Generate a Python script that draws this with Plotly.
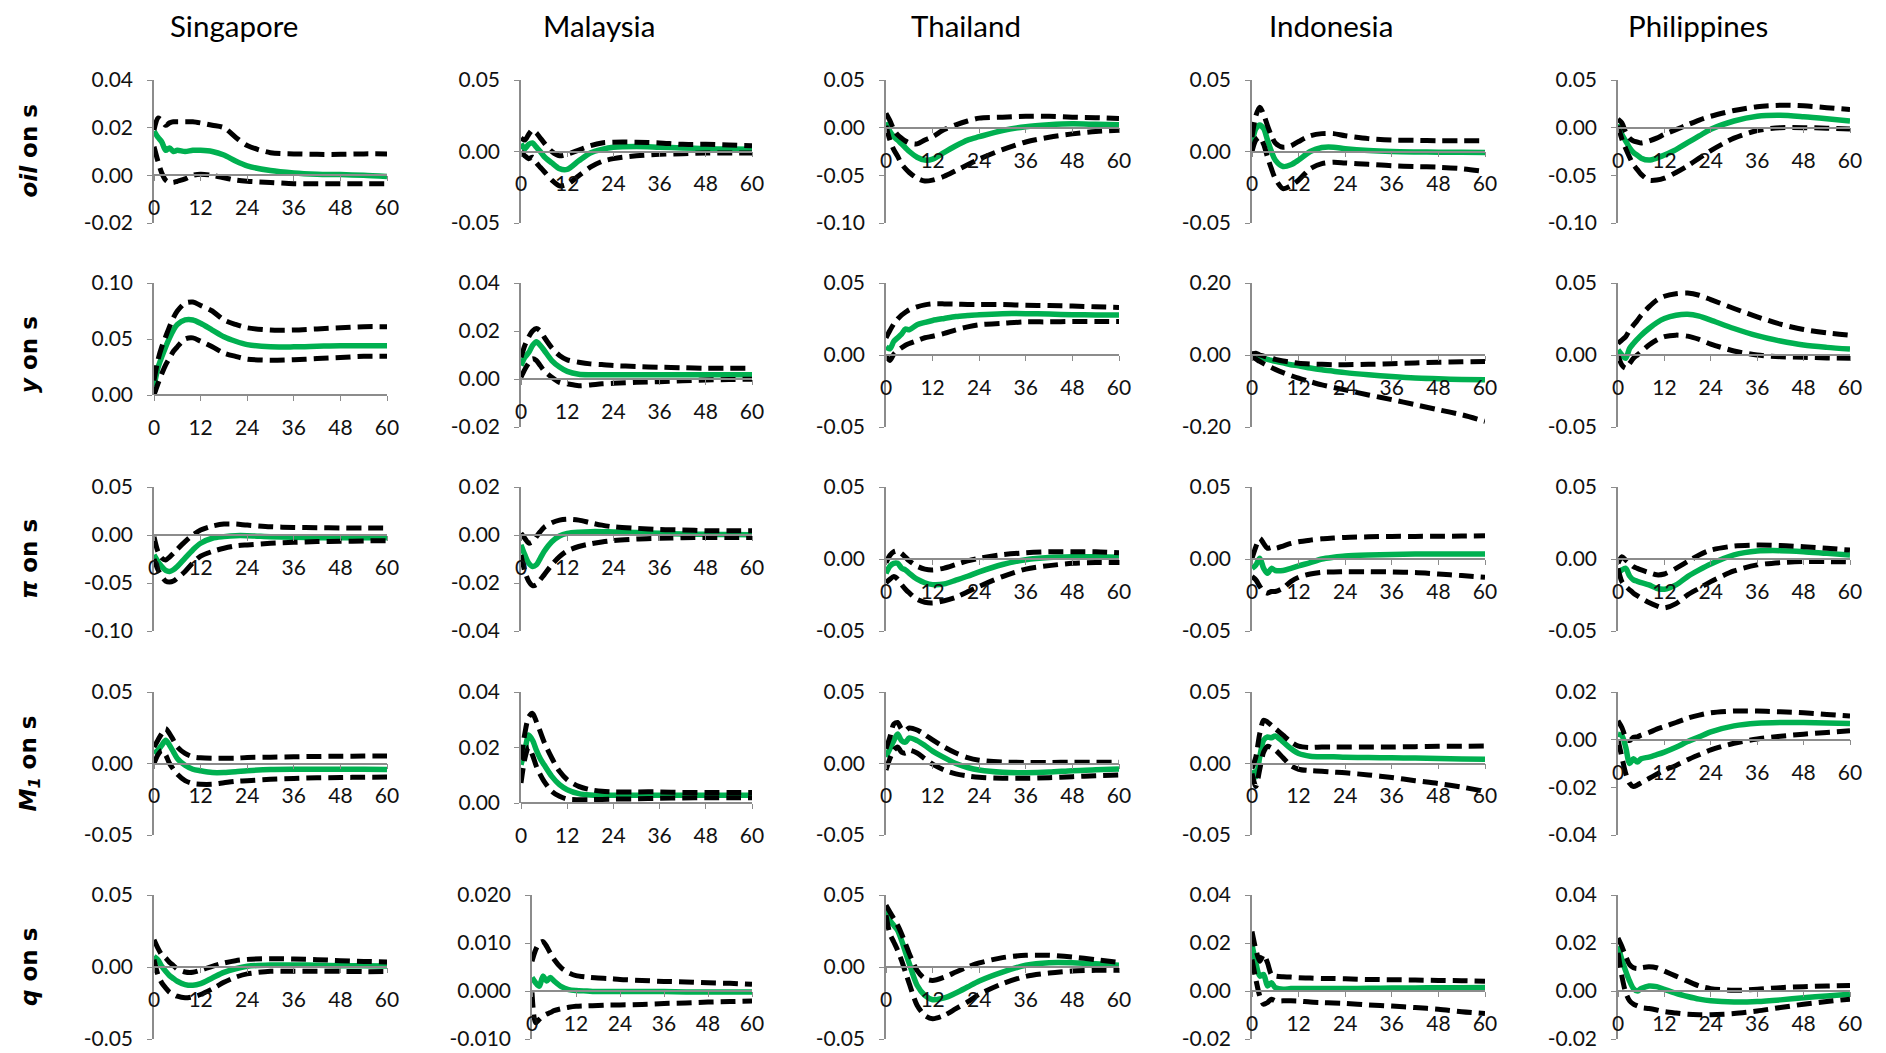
import plotly.graph_objects as go

# page body has an 8px margin: the figure is drawn from (8, 8)
PAGE_OFF = 8
W, H = 1886 - 2 * PAGE_OFF, 1053 - PAGE_OFF

countries = ["Singapore", "Malaysia", "Thailand", "Indonesia", "Philippines"]
shock_labels = ["<b><i>oil</i> on s</b>", "<b><i>y</i> on s</b>", "<b><i>π</i> on s</b>",
                "<b><i>M<sub>1</sub></i> on s</b>", "<b><i>q</i> on s</b>"]
horizons = [0, 1, 2, 3, 4, 5, 6, 8, 10, 12, 15, 18, 21, 24, 30, 36, 42, 48, 54, 60]
x_tick_values = [0, 12, 24, 36, 48, 60]

# ---------------- oil on s ----------------
sg_oil_mid = [0.0185, 0.016, 0.014, 0.0105, 0.0115, 0.010, 0.0105, 0.010, 0.0105, 0.0105, 0.010, 0.0085, 0.006, 0.004, 0.002, 0.001, 0.0005, 0.0003, 0.0, -0.0005]
sg_oil_hi = [0.019, 0.024, 0.023, 0.021, 0.022, 0.0225, 0.0225, 0.0225, 0.0225, 0.022, 0.021, 0.020, 0.016, 0.0125, 0.0095, 0.009, 0.0088, 0.0088, 0.009, 0.009]
sg_oil_lo = [0.012, 0.006, 0.001, -0.002, -0.003, -0.003, -0.0025, -0.0015, 0.0, 0.0005, 0.0, -0.001, -0.002, -0.0025, -0.003, -0.0035, -0.0035, -0.0035, -0.0035, -0.0035]

my_oil_mid = [0.0055, 0.002, 0.005, 0.006, 0.003, 0.0, -0.0035, -0.008, -0.012, -0.0125, -0.0065, -0.001, 0.0015, 0.003, 0.0035, 0.003, 0.0025, 0.002, 0.0017, 0.0015]
my_oil_hi = [0.0095, 0.008, 0.012, 0.015, 0.013, 0.0095, 0.006, 0.0, -0.003, -0.002, 0.001, 0.004, 0.006, 0.0065, 0.0065, 0.006, 0.005, 0.005, 0.0045, 0.004]
my_oil_lo = [0.0, -0.003, -0.005, -0.004, -0.008, -0.011, -0.014, -0.020, -0.024, -0.023, -0.017, -0.011, -0.007, -0.005, -0.003, -0.002, -0.0015, -0.001, -0.001, -0.001]

th_oil_mid = [0.0057, -0.004, -0.0095, -0.013, -0.017, -0.021, -0.025, -0.031, -0.034, -0.033, -0.026, -0.019, -0.013, -0.0095, -0.003, 0.001, 0.003, 0.004, 0.0035, 0.003]
th_oil_hi = [0.015, 0.0075, -0.002, -0.0076, -0.011, -0.014, -0.016, -0.017, -0.013, -0.0095, -0.002, 0.003, 0.007, 0.010, 0.011, 0.012, 0.012, 0.011, 0.0105, 0.0095]
th_oil_lo = [0.002, -0.013, -0.023, -0.030, -0.038, -0.043, -0.047, -0.053, -0.056, -0.055, -0.051, -0.045, -0.039, -0.033, -0.023, -0.015, -0.010, -0.0065, -0.004, -0.0027]

id_oil_mid = [0.006, 0.016, 0.0186, 0.016, 0.008, 0.0, -0.006, -0.0105, -0.0093, -0.006, 0.0, 0.0028, 0.003, 0.002, 0.0007, 0.0, -0.0003, -0.0005, -0.0006, -0.0007]
id_oil_hi = [0.010, 0.025, 0.031, 0.026, 0.018, 0.011, 0.006, 0.003, 0.004, 0.007, 0.011, 0.0125, 0.0125, 0.011, 0.009, 0.008, 0.0078, 0.0075, 0.0075, 0.0075]
id_oil_lo = [0.0, 0.008, 0.010, 0.005, -0.004, -0.012, -0.019, -0.026, -0.024, -0.020, -0.012, -0.0085, -0.0075, -0.008, -0.009, -0.010, -0.0105, -0.011, -0.012, -0.014]

ph_oil_mid = [0.0035, -0.007, -0.014, -0.021, -0.026, -0.029, -0.032, -0.034, -0.032, -0.0287, -0.023, -0.0157, -0.0087, -0.0017, 0.007, 0.012, 0.013, 0.0115, 0.0094, 0.007]
ph_oil_hi = [0.009, 0.005, -0.005, -0.011, -0.014, -0.015, -0.016, -0.014, -0.011, -0.007, -0.002, 0.003, 0.008, 0.012, 0.018, 0.022, 0.0235, 0.023, 0.021, 0.019]
ph_oil_lo = [0.002, -0.012, -0.022, -0.031, -0.039, -0.044, -0.049, -0.055, -0.055, -0.053, -0.047, -0.040, -0.032, -0.024, -0.011, -0.003, 0.0, 0.0, -0.0005, -0.0015]

# ---------------- y on s ----------------
sg_y_mid = [0.0075, 0.024, 0.034, 0.043, 0.051, 0.058, 0.063, 0.067, 0.067, 0.064, 0.058, 0.052, 0.048, 0.045, 0.043, 0.043, 0.0435, 0.044, 0.044, 0.044]
sg_y_hi = [0.013, 0.031, 0.043, 0.052, 0.061, 0.069, 0.075, 0.082, 0.083, 0.080, 0.075, 0.067, 0.063, 0.060, 0.058, 0.058, 0.059, 0.060, 0.061, 0.061]
sg_y_lo = [0.0, 0.010, 0.019, 0.027, 0.033, 0.039, 0.043, 0.050, 0.051, 0.048, 0.043, 0.0375, 0.0345, 0.032, 0.031, 0.0315, 0.0325, 0.0335, 0.0345, 0.0345]

my_y_mid = [0.0056, 0.009, 0.011, 0.014, 0.0155, 0.014, 0.012, 0.0077, 0.005, 0.0032, 0.002, 0.0018, 0.0018, 0.0018, 0.0018, 0.0018, 0.0018, 0.0018, 0.0018, 0.0018]
my_y_hi = [0.009, 0.014, 0.0175, 0.020, 0.021, 0.020, 0.0175, 0.013, 0.0098, 0.008, 0.007, 0.0063, 0.006, 0.0056, 0.0052, 0.0049, 0.0047, 0.0045, 0.0045, 0.0045]
my_y_lo = [0.0007, 0.004, 0.0066, 0.0084, 0.0077, 0.0056, 0.0035, 0.0007, -0.0014, -0.002, -0.0028, -0.0025, -0.002, -0.0018, -0.0014, -0.0011, -0.0007, -0.0004, -0.0002, -0.0001]

th_y_mid = [0.0056, 0.0043, 0.0094, 0.012, 0.0145, 0.018, 0.0175, 0.021, 0.0226, 0.024, 0.0254, 0.0267, 0.0274, 0.028, 0.0287, 0.0287, 0.0284, 0.028, 0.0278, 0.0277]
th_y_hi = [0.012, 0.017, 0.0216, 0.025, 0.0277, 0.0297, 0.0315, 0.0335, 0.0348, 0.0355, 0.0355, 0.0353, 0.0351, 0.035, 0.035, 0.0345, 0.0343, 0.034, 0.0335, 0.033]
th_y_lo = [-0.0008, -0.0038, 0.0005, 0.003, 0.005, 0.0068, 0.008, 0.010, 0.012, 0.013, 0.015, 0.0175, 0.0195, 0.021, 0.022, 0.023, 0.023, 0.0233, 0.0233, 0.0233]

id_y_mid = [0.0, -0.003, -0.006, -0.009, -0.012, -0.015, -0.0175, -0.022, -0.027, -0.030, -0.036, -0.041, -0.045, -0.049, -0.055, -0.060, -0.064, -0.066, -0.068, -0.069]
id_y_hi = [0.003, 0.005, 0.0, -0.003, -0.0065, -0.009, -0.012, -0.0166, -0.020, -0.023, -0.025, -0.026, -0.027, -0.027, -0.026, -0.024, -0.022, -0.020, -0.019, -0.018]
id_y_lo = [-0.0046, -0.011, -0.018, -0.024, -0.0295, -0.035, -0.040, -0.049, -0.057, -0.0645, -0.074, -0.083, -0.090, -0.097, -0.111, -0.124, -0.138, -0.152, -0.166, -0.184]

ph_y_mid = [0.0035, 0.0, -0.0023, 0.0046, 0.008, 0.011, 0.0138, 0.0184, 0.0224, 0.0253, 0.0276, 0.0283, 0.027, 0.0242, 0.0184, 0.0134, 0.0097, 0.0069, 0.0053, 0.0041]
ph_y_hi = [0.008, 0.0104, 0.0127, 0.0173, 0.0207, 0.024, 0.0276, 0.0334, 0.038, 0.0408, 0.0426, 0.043, 0.0415, 0.0385, 0.0323, 0.0265, 0.0214, 0.0177, 0.0154, 0.0138]
ph_y_lo = [0.0, -0.007, -0.0092, -0.0058, -0.0023, 0.0, 0.0023, 0.0069, 0.0104, 0.0127, 0.0138, 0.0131, 0.0108, 0.0076, 0.0028, 0.0, -0.0012, -0.0016, -0.002, -0.0023]

# ---------------- pi on s ----------------
sg_pi_mid = [-0.0207, -0.0276, -0.0328, -0.0369, -0.038, -0.0362, -0.0328, -0.024, -0.0155, -0.0086, -0.0034, -0.0017, -0.0007, -0.0007, -0.0017, -0.0024, -0.0028, -0.0028, -0.0028, -0.0028]
sg_pi_hi = [-0.002, -0.0172, -0.024, -0.026, -0.023, -0.019, -0.0148, -0.0069, 0.0, 0.0052, 0.0093, 0.0114, 0.0114, 0.0103, 0.0086, 0.0079, 0.0076, 0.0074, 0.0073, 0.0072]
sg_pi_lo = [-0.025, -0.036, -0.043, -0.048, -0.049, -0.048, -0.045, -0.038, -0.029, -0.022, -0.0172, -0.0138, -0.0114, -0.0103, -0.0086, -0.0076, -0.0069, -0.0066, -0.0062, -0.0059]

my_pi_mid = [-0.0041, -0.0083, -0.0117, -0.0131, -0.0124, -0.0097, -0.0069, -0.0028, -0.0004, 0.0007, 0.0012, 0.0014, 0.0014, 0.0013, 0.001, 0.0007, 0.0004, 0.0003, 0.0002, 0.0001]
my_pi_hi = [0.0007, -0.0014, -0.0034, -0.0028, -0.0007, 0.0014, 0.0032, 0.0051, 0.0062, 0.0066, 0.0062, 0.0051, 0.0041, 0.0034, 0.0028, 0.0023, 0.0021, 0.0018, 0.0018, 0.0018]
my_pi_lo = [-0.0083, -0.0152, -0.0193, -0.0211, -0.0207, -0.0186, -0.0166, -0.0124, -0.009, -0.0066, -0.0048, -0.0037, -0.0029, -0.0023, -0.0017, -0.0014, -0.0011, -0.001, -0.001, -0.001]

th_pi_mid = [-0.010, -0.005, -0.003, -0.003, -0.0063, -0.0076, -0.010, -0.014, -0.0165, -0.0178, -0.0173, -0.0147, -0.012, -0.0089, -0.0038, -0.0005, 0.001, 0.0015, 0.0015, 0.0013]
th_pi_hi = [-0.0025, 0.0025, 0.005, 0.0056, 0.0038, 0.0013, -0.0013, -0.005, -0.007, -0.0076, -0.0063, -0.0038, -0.0013, 0.0005, 0.003, 0.0043, 0.005, 0.005, 0.005, 0.0043]
th_pi_lo = [-0.0165, -0.014, -0.0122, -0.014, -0.0178, -0.021, -0.0236, -0.028, -0.030, -0.0305, -0.029, -0.0266, -0.0228, -0.019, -0.0122, -0.007, -0.0046, -0.003, -0.0025, -0.0025]

id_pi_mid = [-0.0065, -0.0041, 0.0005, -0.0065, -0.0099, -0.0065, -0.008, -0.008, -0.0065, -0.0048, -0.0025, 0.0, 0.0012, 0.0021, 0.0028, 0.0032, 0.0035, 0.0035, 0.0035, 0.0035]
id_pi_hi = [0.0005, 0.0085, 0.0143, 0.0108, 0.0074, 0.008, 0.0074, 0.009, 0.0108, 0.012, 0.0131, 0.014, 0.0145, 0.015, 0.0154, 0.0157, 0.0157, 0.0158, 0.0159, 0.0161]
id_pi_lo = [-0.0122, -0.0145, -0.019, -0.0226, -0.0237, -0.0226, -0.0226, -0.0203, -0.0157, -0.0127, -0.0104, -0.0092, -0.009, -0.0088, -0.0088, -0.009, -0.0094, -0.0104, -0.0115, -0.0127]

ph_pi_mid = [-0.0099, -0.0076, -0.0065, -0.0118, -0.0145, -0.0155, -0.0164, -0.018, -0.0203, -0.021, -0.018, -0.0122, -0.0076, -0.0035, 0.0028, 0.0055, 0.0058, 0.0051, 0.0039, 0.0028]
ph_pi_hi = [-0.003, 0.0016, -0.0007, -0.003, -0.0053, -0.0065, -0.0076, -0.0094, -0.011, -0.0104, -0.0065, -0.0018, 0.0028, 0.0062, 0.009, 0.0097, 0.0094, 0.0085, 0.0074, 0.0062]
ph_pi_lo = [-0.0065, -0.0157, -0.019, -0.0214, -0.0237, -0.0255, -0.0272, -0.0302, -0.0325, -0.034, -0.031, -0.0249, -0.0203, -0.0157, -0.0083, -0.0041, -0.0025, -0.0018, -0.0018, -0.002]

# ---------------- M1 on s ----------------
sg_m1_mid = [0.007, 0.0093, 0.0128, 0.0163, 0.0128, 0.0081, 0.0035, -0.0012, -0.004, -0.0051, -0.0063, -0.0063, -0.0058, -0.0051, -0.0042, -0.004, -0.004, -0.004, -0.004, -0.0042]
sg_m1_hi = [0.0116, 0.0163, 0.0209, 0.0244, 0.0209, 0.0163, 0.0116, 0.007, 0.0047, 0.004, 0.0037, 0.0037, 0.0037, 0.0042, 0.0044, 0.0047, 0.0049, 0.0051, 0.0052, 0.0053]
sg_m1_lo = [0.0, 0.006, 0.009, 0.006, 0.0, -0.004, -0.0075, -0.012, -0.014, -0.0145, -0.0145, -0.0135, -0.0125, -0.012, -0.011, -0.0105, -0.010, -0.0098, -0.0096, -0.0095]

my_m1_mid = [0.0138, 0.019, 0.0245, 0.0226, 0.019, 0.016, 0.0138, 0.0096, 0.0066, 0.0048, 0.0034, 0.0029, 0.0028, 0.0028, 0.0028, 0.0028, 0.0028, 0.0028, 0.0028, 0.0028]
my_m1_hi = [0.0156, 0.0251, 0.031, 0.0323, 0.0293, 0.0257, 0.022, 0.0162, 0.0114, 0.0084, 0.006, 0.0048, 0.0042, 0.004, 0.004, 0.004, 0.0038, 0.0038, 0.0038, 0.0038]
my_m1_lo = [0.0072, 0.016, 0.0202, 0.0172, 0.0132, 0.0102, 0.0078, 0.0042, 0.0024, 0.0014, 0.0012, 0.0012, 0.0013, 0.0014, 0.0015, 0.0017, 0.0018, 0.0019, 0.0019, 0.0019]

th_m1_mid = [0.0046, 0.0103, 0.016, 0.0206, 0.016, 0.0149, 0.0179, 0.016, 0.0126, 0.0087, 0.0041, 0.0, -0.0028, -0.0046, -0.0062, -0.0064, -0.006, -0.005, -0.0044, -0.0039]
th_m1_hi = [0.0103, 0.0183, 0.0275, 0.0287, 0.0241, 0.023, 0.0248, 0.0234, 0.0202, 0.0165, 0.0115, 0.0073, 0.0041, 0.0023, 0.0011, 0.0007, 0.0007, 0.0009, 0.0009, 0.0009]
th_m1_lo = [-0.0046, 0.0034, 0.0092, 0.0115, 0.008, 0.0073, 0.0092, 0.0073, 0.0034, -0.0005, -0.0046, -0.0073, -0.0087, -0.0096, -0.0103, -0.0103, -0.0099, -0.0092, -0.0085, -0.008]

id_m1_mid = [-0.0047, -0.0093, 0.0047, 0.0163, 0.0186, 0.018, 0.0193, 0.0151, 0.0105, 0.007, 0.0051, 0.0047, 0.0047, 0.0044, 0.0042, 0.004, 0.0038, 0.0035, 0.0032, 0.003]
id_m1_hi = [-0.0035, 0.0047, 0.021, 0.0302, 0.029, 0.0267, 0.0244, 0.0198, 0.0151, 0.0121, 0.0112, 0.0116, 0.0116, 0.0116, 0.0116, 0.0116, 0.0118, 0.0121, 0.0121, 0.0123]
id_m1_lo = [-0.007, -0.016, -0.004, 0.008, 0.012, 0.011, 0.0095, 0.004, -0.0015, -0.004, -0.005, -0.0055, -0.006, -0.0065, -0.008, -0.0098, -0.012, -0.014, -0.0165, -0.0195]

ph_m1_mid = [0.0023, 0.0017, -0.0032, -0.010, -0.008, -0.0094, -0.008, -0.0073, -0.0063, -0.0052, -0.0032, -0.0008, 0.0012, 0.0033, 0.0058, 0.0069, 0.0072, 0.0072, 0.007, 0.0068]
ph_m1_hi = [0.0079, 0.0051, 0.001, -0.0004, 0.001, 0.0012, 0.0019, 0.003, 0.0044, 0.0055, 0.0072, 0.009, 0.0103, 0.0113, 0.012, 0.012, 0.0117, 0.0113, 0.0106, 0.0099]
ph_m1_lo = [0.0, -0.0073, -0.0142, -0.0183, -0.0197, -0.019, -0.0181, -0.0163, -0.0145, -0.0128, -0.0108, -0.0084, -0.0063, -0.0043, -0.0015, 0.0003, 0.0014, 0.0023, 0.003, 0.0037]

# ---------------- q on s ----------------
sg_q_mid = [0.0074, 0.0051, 0.0005, -0.003, -0.006, -0.008, -0.0099, -0.0122, -0.0127, -0.0115, -0.0076, -0.0037, -0.0012, 0.0005, 0.0014, 0.0014, 0.0012, 0.0009, 0.0008, 0.0007]
sg_q_hi = [0.0189, 0.0131, 0.0085, 0.0062, 0.0032, 0.001, -0.0014, -0.0035, -0.0037, -0.0023, 0.0005, 0.0028, 0.0044, 0.0053, 0.0058, 0.0055, 0.0051, 0.0044, 0.0039, 0.0035]
sg_q_lo = [0.0051, -0.0053, -0.011, -0.0145, -0.0175, -0.019, -0.0203, -0.0214, -0.0207, -0.0191, -0.0152, -0.0106, -0.0071, -0.0048, -0.003, -0.003, -0.003, -0.003, -0.0032, -0.0032]

my_q_mid = [0.0028, 0.0017, 0.001, 0.0031, 0.0021, 0.0028, 0.0021, 0.0009, 0.0003, 0.0001, 0.0, -0.0001, -0.0001, -0.0001, -0.0001, -0.0001, -0.0002, -0.0002, -0.0002, -0.0002]
my_q_hi = [0.0062, 0.0086, 0.010, 0.0103, 0.0093, 0.0079, 0.0066, 0.0048, 0.0038, 0.0032, 0.0029, 0.0027, 0.0026, 0.0024, 0.0022, 0.002, 0.0019, 0.0017, 0.0016, 0.0014]
my_q_lo = [-0.0003, -0.0066, -0.0059, -0.0052, -0.0048, -0.0045, -0.0041, -0.0037, -0.0034, -0.0032, -0.0031, -0.003, -0.0029, -0.0029, -0.0028, -0.0026, -0.0025, -0.0023, -0.0022, -0.0021]

th_q_mid = [0.0394, 0.0324, 0.0289, 0.0255, 0.0185, 0.0104, 0.0023, -0.0127, -0.0197, -0.0227, -0.0215, -0.018, -0.0139, -0.0097, -0.0035, 0.0012, 0.003, 0.003, 0.0023, 0.0012]
th_q_hi = [0.0428, 0.0382, 0.0336, 0.029, 0.0231, 0.0162, 0.0093, -0.0023, -0.0081, -0.0093, -0.007, -0.0035, 0.0, 0.0028, 0.0065, 0.0081, 0.0081, 0.0069, 0.0051, 0.0032]
th_q_lo = [0.0359, 0.0231, 0.0174, 0.0116, 0.0046, -0.0035, -0.0116, -0.0266, -0.0336, -0.0359, -0.0336, -0.0289, -0.0243, -0.019, -0.0116, -0.0065, -0.0042, -0.0028, -0.0023, -0.0023]

id_q_mid = [0.0193, 0.0117, 0.0062, 0.0069, 0.0021, 0.0034, 0.0014, 0.0007, 0.001, 0.001, 0.001, 0.001, 0.001, 0.001, 0.0011, 0.0012, 0.0013, 0.0014, 0.0014, 0.0015]
id_q_hi = [0.0248, 0.0172, 0.0124, 0.0152, 0.0117, 0.0069, 0.0062, 0.0059, 0.0058, 0.0055, 0.0054, 0.0052, 0.0052, 0.0051, 0.0048, 0.0047, 0.0046, 0.0044, 0.0043, 0.0041]
id_q_lo = [0.0131, 0.0048, -0.0021, -0.0055, -0.0048, -0.0034, -0.0041, -0.0041, -0.0041, -0.0042, -0.0046, -0.0048, -0.005, -0.0052, -0.0058, -0.0063, -0.0069, -0.0076, -0.0086, -0.0094]

ph_q_mid = [0.0186, 0.0131, 0.0083, 0.0041, 0.001, 0.0, 0.001, 0.0021, 0.0018, 0.0007, -0.001, -0.0023, -0.0034, -0.0041, -0.0046, -0.0044, -0.0037, -0.0028, -0.0021, -0.0014]
ph_q_hi = [0.0221, 0.0186, 0.0145, 0.011, 0.0097, 0.0094, 0.0097, 0.0101, 0.0097, 0.0083, 0.0062, 0.0041, 0.0021, 0.001, 0.0003, 0.0007, 0.0014, 0.0018, 0.0021, 0.0023]
ph_q_lo = [0.0159, 0.0062, -0.0007, -0.0041, -0.0055, -0.0062, -0.0069, -0.0073, -0.0079, -0.0086, -0.0092, -0.0097, -0.0099, -0.0099, -0.0094, -0.0083, -0.0069, -0.0055, -0.0044, -0.0034]

# y-axis scales per panel: (min, max, major unit, decimals)
y_scales = [
    [(-0.02, 0.04, 0.02, 2), (-0.05, 0.05, 0.05, 2), (-0.10, 0.05, 0.05, 2), (-0.05, 0.05, 0.05, 2), (-0.10, 0.05, 0.05, 2)],
    [(0.0, 0.10, 0.05, 2), (-0.02, 0.04, 0.02, 2), (-0.05, 0.05, 0.05, 2), (-0.20, 0.20, 0.20, 2), (-0.05, 0.05, 0.05, 2)],
    [(-0.10, 0.05, 0.05, 2), (-0.04, 0.02, 0.02, 2), (-0.05, 0.05, 0.05, 2), (-0.05, 0.05, 0.05, 2), (-0.05, 0.05, 0.05, 2)],
    [(-0.05, 0.05, 0.05, 2), (0.0, 0.04, 0.02, 2), (-0.05, 0.05, 0.05, 2), (-0.05, 0.05, 0.05, 2), (-0.04, 0.02, 0.02, 2)],
    [(-0.05, 0.05, 0.05, 2), (-0.010, 0.020, 0.010, 3), (-0.05, 0.05, 0.05, 2), (-0.02, 0.04, 0.02, 2), (-0.02, 0.04, 0.02, 2)],
]

panels = [
    [(sg_oil_lo, sg_oil_mid, sg_oil_hi), (my_oil_lo, my_oil_mid, my_oil_hi), (th_oil_lo, th_oil_mid, th_oil_hi), (id_oil_lo, id_oil_mid, id_oil_hi), (ph_oil_lo, ph_oil_mid, ph_oil_hi)],
    [(sg_y_lo, sg_y_mid, sg_y_hi), (my_y_lo, my_y_mid, my_y_hi), (th_y_lo, th_y_mid, th_y_hi), (id_y_lo, id_y_mid, id_y_hi), (ph_y_lo, ph_y_mid, ph_y_hi)],
    [(sg_pi_lo, sg_pi_mid, sg_pi_hi), (my_pi_lo, my_pi_mid, my_pi_hi), (th_pi_lo, th_pi_mid, th_pi_hi), (id_pi_lo, id_pi_mid, id_pi_hi), (ph_pi_lo, ph_pi_mid, ph_pi_hi)],
    [(sg_m1_lo, sg_m1_mid, sg_m1_hi), (my_m1_lo, my_m1_mid, my_m1_hi), (th_m1_lo, th_m1_mid, th_m1_hi), (id_m1_lo, id_m1_mid, id_m1_hi), (ph_m1_lo, ph_m1_mid, ph_m1_hi)],
    [(sg_q_lo, sg_q_mid, sg_q_hi), (my_q_lo, my_q_mid, my_q_hi), (th_q_lo, th_q_mid, th_q_hi), (id_q_lo, id_q_mid, id_q_hi), (ph_q_lo, ph_q_mid, ph_q_hi)],
]

# ---------------- layout geometry (screen pixels) ----------------
col_left = [154, 521, 886, 1252, 1618]
col_right = [387, 752, 1119, 1485, 1850]
row_top = [80, 283, 487, 692, 895]
row_bottom = [223, 427, 631, 835, 1039]
title_x = [234, 599, 966, 1331, 1698]


def px(x):
    return (x - PAGE_OFF) / W


def py(y):
    return 1 - (y - PAGE_OFF) / H


GREEN = "#00B050"
AXIS = "#8C8C8C"
TICK_FONT = dict(family="Lato, Open Sans, sans-serif", size=21, color="#111111")

fig = go.Figure()
layout = dict(
    template="none",
    width=W, height=H, margin=dict(l=0, r=0, t=0, b=0, pad=0, autoexpand=False),
    paper_bgcolor="white", plot_bgcolor="white", showlegend=False,
)


def fmt(v, d):
    s = f"{v:.{d}f}"
    if float(s) == 0:
        s = f"{0:.{d}f}"
    return s


annotations = []
k = 0
for r in range(5):
    for c in range(5):
        k += 1
        ymin, ymax, step, dec = y_scales[r][c]
        lo, mid, hi = panels[r][c]
        left = col_left[c] + (11 if dec == 3 else 0)
        right = col_right[c]
        top = row_top[r]
        bottom = row_bottom[r] - (32 if ymin == 0 else 0)
        yd0, yd1 = py(bottom), py(top)
        zero_pos = yd0 + (0 - ymin) / (ymax - ymin) * (yd1 - yd0)
        n = int(round((ymax - ymin) / step))
        yt = [ymin + i * step for i in range(n + 1)]
        xs = "x" if k == 1 else f"x{k}"
        ys = "y" if k == 1 else f"y{k}"
        layout["xaxis" if k == 1 else f"xaxis{k}"] = dict(
            domain=[px(left), px(right)], range=[0, 60], anchor="free", position=zero_pos,
            tickmode="array", tickvals=x_tick_values, ticktext=[str(v) for v in x_tick_values],
            ticks="outside", ticklen=5, tickwidth=1.3, tickcolor=AXIS, automargin=False,
            showline=True, linecolor=AXIS, linewidth=1.5, showgrid=False, zeroline=False,
            tickfont=TICK_FONT, ticklabelstandoff=9, ticklabeloverflow="allow", fixedrange=True,
        )
        layout["yaxis" if k == 1 else f"yaxis{k}"] = dict(
            domain=[yd0, yd1], range=[ymin, ymax], anchor=xs,
            tickmode="array", tickvals=yt, ticktext=[fmt(v, dec) for v in yt],
            ticks="outside", ticklen=5, tickwidth=1.3, tickcolor=AXIS, automargin=False,
            showline=True, linecolor=AXIS, linewidth=1.5, showgrid=False, zeroline=False,
            tickfont=TICK_FONT, ticklabelstandoff=10, ticklabeloverflow="allow", fixedrange=True,
        )
        fig.add_trace(go.Scatter(x=horizons, y=mid, mode="lines", xaxis=xs, yaxis=ys,
                                 line=dict(color=GREEN, width=5.5, shape="spline", smoothing=0.8)))
        for band in (lo, hi):
            fig.add_trace(go.Scatter(x=horizons, y=band, mode="lines", xaxis=xs, yaxis=ys,
                                     line=dict(color="black", width=5, dash="15px,7px",
                                               shape="spline", smoothing=0.8)))

for c, name in enumerate(countries):
    annotations.append(dict(text=name, x=px(title_x[c]), y=py(25), xref="paper", yref="paper",
                            showarrow=False, xanchor="center", yanchor="middle",
                            font=dict(family="Lato, Open Sans, sans-serif", size=29.5, color="black")))
for r, lab in enumerate(shock_labels):
    yc = py((row_top[r] + row_bottom[r]) / 2)
    annotations.append(dict(text=lab, x=px(29), y=yc, xref="paper", yref="paper",
                            showarrow=False, xanchor="center", yanchor="middle", textangle=-90,
                            font=dict(family="DejaVu Sans, Verdana, sans-serif", size=23, color="black")))

layout["annotations"] = annotations
fig.update_layout(**layout)
fig.write_html("out.html")
